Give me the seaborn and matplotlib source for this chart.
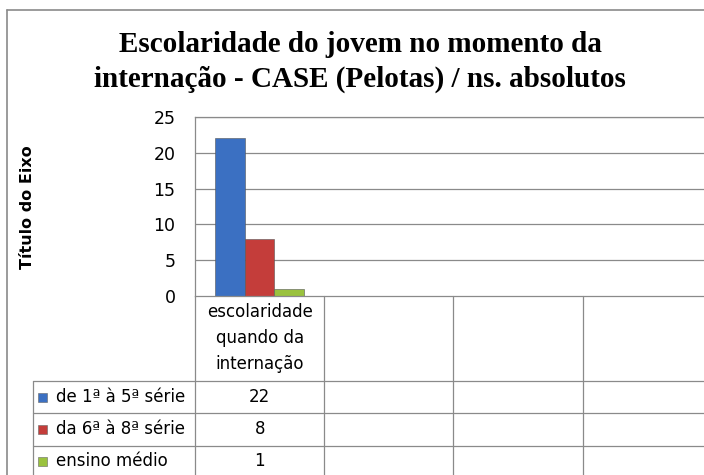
import seaborn as sns
import pandas as pd
import matplotlib.pyplot as plt
from matplotlib.lines import Line2D
from matplotlib.patches import Rectangle

# categorias (só a primeira tem dados, as outras ficam vazias como no original)
cat_keys = ['c1', 'c2', 'c3', 'c4']
cat_labels = ['escolaridade\nquando da\ninternação', '', '', '']
series = ['de 1ª à 5ª série', 'da 6ª à 8ª série', 'ensino médio']
values = [22, 8, 1]
series_colors = ['#3B70C2', '#C43D3A', '#9AC23E']
yticks = [0, 5, 10, 15, 20, 25]

df = pd.DataFrame({'categoria': ['c1'] * 3, 'serie': series, 'valor': values})

sns.set_style('white')
plt.rcParams['font.family'] = ['DejaVu Sans']
plt.rcParams['text.color'] = 'black'
plt.rcParams['ytick.color'] = 'black'

W, H = 704, 475
fig = plt.figure(figsize=(W / 100, H / 100), dpi=100)
# plot area in pixels: x 195 -> 712 (cortado à direita), y 117 -> 296
AH = 179
ax = fig.add_axes([195 / W, (H - 296) / H, 517 / W, AH / H])

sns.barplot(data=df, x='categoria', y='valor', hue='serie', order=cat_keys,
            hue_order=series, palette=series_colors, width=0.69, saturation=1,
            legend=False, edgecolor='#555555', linewidth=0.4, ax=ax)

grid_c = '#8a8a8a'
ax.set_ylim(0, 25)
ax.set_xlim(-0.5, len(cat_keys) - 0.5)
ax.set_yticks(yticks)
ax.set_yticklabels([str(v) for v in yticks], fontsize=12.5)
ax.tick_params(axis='y', length=0, pad=14)
ax.set_xticks([])
ax.set_xlabel('')
ax.set_ylabel('')
for y in yticks[1:]:
    ax.axhline(y, color=grid_c, lw=0.9, zorder=0)
for s in ['left', 'bottom', 'top']:
    ax.spines[s].set_color(grid_c)
    ax.spines[s].set_linewidth(0.9)
ax.spines['right'].set_visible(False)

# título do eixo
fig.text(28 / W, 1 - 207 / H, 'Título do Eixo', rotation=90, ha='center', va='center',
         fontsize=11.5, fontweight='bold')

# título
fig.text(360 / W, 1 - 45 / H, 'Escolaridade do jovem no momento da', ha='center', va='center',
         fontsize=21, fontweight='bold', family='Liberation Serif')
fig.text(360 / W, 1 - 79 / H, 'internação - CASE (Pelotas) / ns. absolutos', ha='center',
         va='center', fontsize=21, fontweight='bold', family='Liberation Serif')

# tabela de dados abaixo do gráfico (bordas em pixels a partir do eixo x)
xt = ax.get_xaxis_transform()
row_px = [0, 85, 117, 150, 185]
row_edges = [-p / AH for p in row_px]
leg_x = -162 / 517
for i in range(len(cat_keys) + 1):
    x = i - 0.5
    ax.add_line(Line2D([x, x], [0, row_edges[-1]], transform=xt, color=grid_c, lw=0.9,
                       clip_on=False))
ax.add_line(Line2D([leg_x, leg_x], [row_edges[1], row_edges[-1]], transform=ax.transAxes,
                   color=grid_c, lw=0.9, clip_on=False))
for y in row_edges[1:4]:
    ax.add_line(Line2D([leg_x, 1.2], [y, y], transform=ax.transAxes, color=grid_c, lw=0.9,
                       clip_on=False))

for i, lab in enumerate(cat_labels):
    ax.text(i, -42 / AH, lab, transform=xt, ha='center',
            va='center', fontsize=12, linespacing=1.6, clip_on=False)

row_centers = [-101 / AH, -133 / AH, -165 / AH]
for yc, name, val, col in zip(row_centers, series, values, series_colors):
    ax.add_patch(Rectangle((leg_x + 5 / 517, yc - 4.5 / AH), 9 / 517, 9 / AH,
                           transform=ax.transAxes, facecolor=col, edgecolor='#666666',
                           lw=0.4, clip_on=False))
    ax.text(leg_x + 23 / 517, yc, name, transform=ax.transAxes, ha='left', va='center',
            fontsize=12, clip_on=False)
    ax.text(0, yc, str(val), transform=xt, ha='center', va='center', fontsize=12,
            clip_on=False)

# moldura externa do gráfico
fig.add_artist(Line2D([7 / W, 7 / W], [0, 1 - 10 / H], color='#8a8a8a', lw=1.2))
fig.add_artist(Line2D([7 / W, 1], [1 - 10 / H, 1 - 10 / H], color='#8a8a8a', lw=1.2))

fig.savefig('out.png', dpi=100)
